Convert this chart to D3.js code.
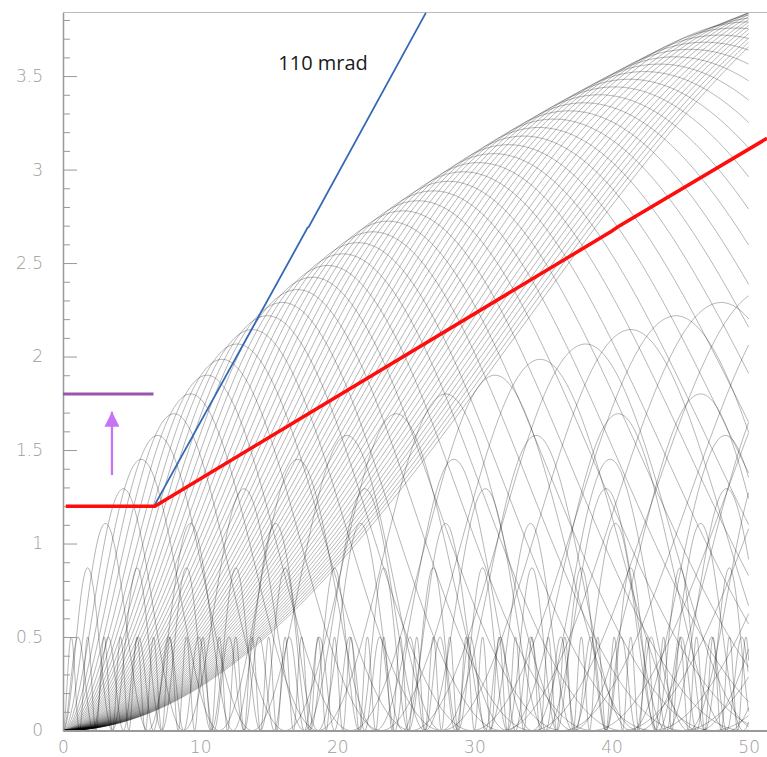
<!DOCTYPE html>
<html>
<head>
<meta charset="utf-8">
<script src="https://cdn.jsdelivr.net/npm/d3@7"></script>
<style>
	html, body { margin: 0; padding: 0; background: #fff; }
	svg { display: block; }
	.axis text { font-family: "DejaVu Sans", sans-serif; font-weight: 200; font-size: 17px; fill: #9c9c9c; }
	.axis path, .axis line { stroke: #999; }
</style>
</head>
<body>
<div class="chart"></div>
<script>
(function () {

	// helix tracks: z of the first maximum and height (2R) of the maxima
	var trackPeakZ = [1.8, 3.1, 4.4, 5.7, 6.9, 8.1, 9.3, 10.5, 11.6, 12.7, 13.8, 14.9, 16.0, 17.1, 18.2,
		19.3, 20.4, 21.5, 22.6, 23.7, 24.8, 25.9, 27.0, 28.1, 29.2, 30.3, 31.4, 32.5, 33.6, 34.7,
		35.8, 36.9, 38.0, 39.1, 40.2, 41.3, 42.4, 43.5, 44.6, 45.7, 46.8, 47.9, 49.0, 50.1, 51.2,
		52.3, 53.4, 54.5, 55.6, 56.7, 57.8, 58.9, 60.0, 61.1, 62.2, 63.3, 64.4, 65.5, 66.6];
	var trackHeight = [0.870, 1.107, 1.293, 1.450, 1.578, 1.694, 1.800, 1.900, 1.985, 2.067, 2.144, 2.218, 2.289, 2.358, 2.424,
		2.487, 2.549, 2.609, 2.667, 2.724, 2.779, 2.833, 2.886, 2.937, 2.988, 3.037, 3.085, 3.133, 3.179, 3.225,
		3.270, 3.314, 3.357, 3.400, 3.442, 3.483, 3.524, 3.564, 3.603, 3.643, 3.681, 3.719, 3.757, 3.790, 3.815,
		3.845, 3.875, 3.905, 3.935, 3.965, 3.995, 4.025, 4.060, 4.095, 4.130, 4.165, 4.200, 4.240, 4.280];

	// small radius loopers
	var looperPeakZ = [0.6, 1.1];
	var looperHeight = [0.5, 0.5];

	var beamPipe = [[0.2, 1.2], [6.7, 1.2], [40.0, 2.67], [40.6, 2.70], [51.34, 3.167]];
	var coneLine = [[6.62, 1.197], [17.83, 2.688], [17.93, 2.695], [26.46, 3.838]];
	var shieldLine = [[0, 1.8], [6.6, 1.8]];
	var arrowLine = [[3.57, 1.366], [3.57, 1.705]];
	var coneLabel = {text: "110 mrad", x: 15.7, y: 3.53};

	var xTicks = [0, 10, 20, 30, 40, 50];
	var yTicks = [0, 0.5, 1, 1.5, 2, 2.5, 3, 3.5];
	var yTickLabels = ["0", "0.5", "1", "1.5", "2", "2.5", "3", "3.5"];
	var yMinorTicks = [0.1, 0.2, 0.3, 0.4, 0.6, 0.7, 0.8, 0.9, 1.1, 1.2, 1.3, 1.4, 1.6, 1.7, 1.8, 1.9,
		2.1, 2.2, 2.3, 2.4, 2.6, 2.7, 2.8, 2.9, 3.1, 3.2, 3.3, 3.4, 3.6, 3.7, 3.8];

	var width = 767, height = 757;
	var zMax = 50;

	var svg = d3.select(".chart")
		.append("svg")
		.attr("width", width)
		.attr("height", height);

	var x = d3.scaleLinear().domain([0, 51.34]).range([63, 767]);
	var y = d3.scaleLinear().domain([0, 3.84]).range([730.5, 12.5]);

	var line = d3.line()
		.x(function (d) { return x(d[0]); })
		.y(function (d) { return y(d[1]); });

	// r(z) of a helix starting on the axis: h * sin^2(pi z / (2 zp))
	function helix(zp, h) {
		var step = Math.min(0.05, zp / 24), pts = [];
		for (var z = 0; z <= zMax + 1e-9; z += step) {
			var s = Math.sin(Math.PI * z / (2 * zp));
			pts.push([z, h * s * s]);
		}
		return pts;
	}

	var tracks = trackPeakZ.map(function (zp, i) { return helix(zp, trackHeight[i]); })
		.concat(looperPeakZ.map(function (zp, i) { return helix(zp, looperHeight[i]); }));

	svg.append("g")
		.selectAll("path")
		.data(tracks)
		.enter().append("path")
		.attr("d", line)
		.attr("fill", "none")
		.attr("stroke", "#000")
		.attr("stroke-opacity", 0.42)
		.attr("stroke-width", 0.7);

	// frame line on top
	svg.append("line")
		.attr("x1", x(0)).attr("x2", x(51.34))
		.attr("y1", y(3.84)).attr("y2", y(3.84))
		.attr("stroke", "#bbb")
		.attr("stroke-width", 1);

	// y axis, ticks pointing inside
	svg.append("g")
		.attr("class", "axis")
		.attr("transform", "translate(" + x(0) + ",0)")
		.call(d3.axisLeft(y).tickValues(yMinorTicks).tickSize(-7).tickSizeOuter(0).tickFormat(""))
		.select(".domain").remove();

	svg.append("g")
		.attr("class", "axis")
		.attr("transform", "translate(" + x(0) + ",0)")
		.call(d3.axisLeft(y).tickValues(yTicks).tickSize(-14).tickSizeOuter(0).tickPadding(20)
			.tickFormat(function (d, i) { return yTickLabels[i]; }))
		.select(".domain").attr("stroke-width", 1.5);

	svg.append("g")
		.attr("class", "axis")
		.attr("transform", "translate(0," + y(0) + ")")
		.call(d3.axisBottom(x).tickValues(xTicks).tickSize(0).tickSizeOuter(0).tickPadding(10))
		.select(".domain").attr("stroke-width", 2);

	svg.append("path")
		.datum(coneLine)
		.attr("d", line)
		.attr("fill", "none")
		.attr("stroke", "#3569b5")
		.attr("stroke-width", 1.8);

	svg.append("path")
		.datum(beamPipe)
		.attr("d", line)
		.attr("fill", "none")
		.attr("stroke", "#ff0d0d")
		.attr("stroke-width", 3.5);

	svg.append("path")
		.datum(shieldLine)
		.attr("d", line)
		.attr("fill", "none")
		.attr("stroke", "#9b55b0")
		.attr("stroke-width", 3);

	svg.append("defs").append("marker")
		.attr("id", "head")
		.attr("viewBox", "0 0 10 10")
		.attr("refX", 10).attr("refY", 5)
		.attr("markerUnits", "userSpaceOnUse")
		.attr("markerWidth", 15).attr("markerHeight", 15)
		.attr("orient", "auto")
		.append("path")
		.attr("d", "M0,0L10,5L0,10z")
		.attr("fill", "#c873f5");

	svg.append("path")
		.datum(arrowLine)
		.attr("d", line)
		.attr("stroke", "#c873f5")
		.attr("stroke-width", 2.3)
		.attr("marker-end", "url(#head)");

	svg.append("text")
		.attr("x", x(coneLabel.x))
		.attr("y", y(coneLabel.y))
		.attr("font-family", "'Open Sans', sans-serif")
		.attr("font-size", "20px")
		.attr("fill", "#1a1a1a")
		.text(coneLabel.text);

})();
</script>
</body>
</html>
